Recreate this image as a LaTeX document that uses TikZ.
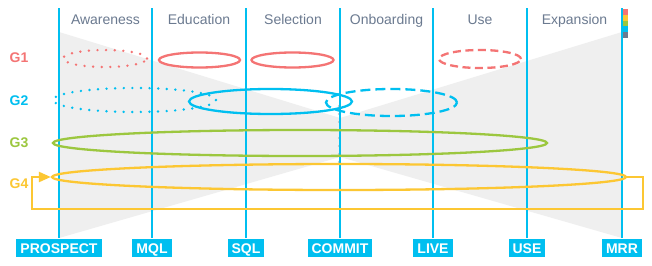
\documentclass[tikz,border=0pt]{standalone}
\usepackage{fontspec}
\setmainfont{Liberation Sans}
\usetikzlibrary{shapes.geometric,arrows.meta}
\definecolor{sky}{HTML}{00BFF0}
\definecolor{coral}{HTML}{F47474}
\definecolor{lime}{HTML}{9CC73F}
\definecolor{amber}{HTML}{FCC733}
\definecolor{slate}{HTML}{6B7A90}
\definecolor{haze}{HTML}{EFEFEF}

\begin{document}
\begin{tikzpicture}[x=1pt,y=-1pt,
  ring/.style={ellipse,draw,line width=2.3pt,inner sep=0pt},
  dots/.style={line cap=round,dash pattern=on 0pt off 8.6pt,line width=2.7pt},
  dashes/.style={dash pattern=on 8pt off 4.5pt},
  stage/.style={fill=sky,text=white,font=\bfseries\fontsize{14}{14}\selectfont,
    inner xsep=4pt,inner ysep=3.5pt,text height=10.5pt,text depth=0pt},
  phase/.style={text=slate,font=\fontsize{14}{14}\selectfont,anchor=base},
  grp/.style={font=\bfseries\fontsize{14}{14}\selectfont,anchor=base}]
  \fill[white] (0,0) rectangle (652,265);
  \useasboundingbox (0,0) rectangle (652,265);
  \fill[haze] (59,32) -- (340,118) -- (622,32) -- (622,238) -- (340,157) -- (59,238) -- cycle;
  \draw[black!25,line cap=round,dash pattern=on 0pt off 8pt,line width=2.2pt] (339,106) -- (339,168);
  % stages
  \foreach \x/\s in {59/PROSPECT,152/MQL,246/SQL,340/COMMIT,433/LIVE,527/USE,622/MRR}{
    \node[stage] (\s) at (\x,248) {\s};
    \draw[sky,line width=1.4pt] ([yshift=1pt]\s.north) -- (\x,8);
  }
  \foreach \x/\t in {105.5/Awareness,199/Education,293/Selection,386.5/Onboarding,480/Use,574.5/Expansion}
    \node[phase] (\t) at (\x,24) {\t};
  % groups
  \node[grp,coral] (G1) at (19,62) {G1};
  \node[grp,sky] (G2) at (19,105) {G2};
  \node[grp,lime] (G3) at (19,147) {G3};
  \node[grp,amber] (G4) at (19,188) {G4};
  \node[ring,coral,dots,minimum width=84pt,minimum height=17pt] (g1aware) at (105,58.5) {};
  \node[ring,coral,minimum width=81pt,minimum height=15pt] (g1edu) at (199.5,60) {};
  \node[ring,coral,minimum width=82pt,minimum height=15pt] (g1sel) at (292.5,60) {};
  \node[ring,coral,dashes,minimum width=82pt,minimum height=18pt] (g1use) at (480,59) {};
  \node[ring,sky,dots,minimum width=163pt,minimum height=24pt] (g2aware) at (134.5,100) {};
  \node[ring,sky,minimum width=163pt,minimum height=25pt] (g2edu) at (270.5,101.5) {};
  \node[ring,sky,dashes,dash pattern=on 10pt off 5pt,minimum width=131pt,minimum height=27pt] (g2onb) at (391.5,102.5) {};
  \node[ring,lime,minimum width=494pt,minimum height=26pt] (g3) at (300,143) {};
  \node[ring,amber,minimum width=574pt,minimum height=26pt] (g4) at (339,177) {};
  \draw[amber,line width=2.3pt,-{Triangle[length=12pt,width=10pt]}]
    (g4.east) -- ++(16,0) -- ++(0,32) -| ([xshift=-19pt]g4.west) -- (g4.west);
  % legend
  \foreach \c [count=\i] in {coral,amber,lime,sky,slate}
    \fill[\c] (623,{9+(\i-1)*5.8}) rectangle ++(4.5,5.8);
\end{tikzpicture}
\end{document}
